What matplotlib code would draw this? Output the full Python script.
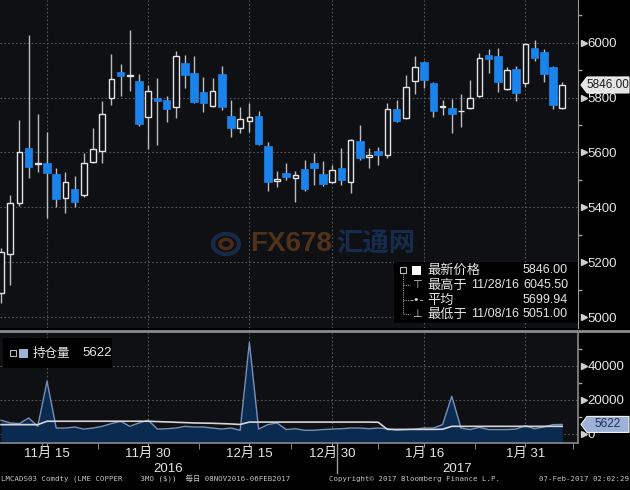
import matplotlib
matplotlib.use("Agg")
import matplotlib.pyplot as plt
import matplotlib.transforms as mtransforms
from matplotlib import font_manager
from matplotlib.font_manager import FontProperties
from matplotlib.patches import Rectangle, Polygon, Circle
from matplotlib.lines import Line2D
import numpy as np

# LMCADS03 (LME copper 3M), daily candles 08NOV2016 - 06FEB2017, trading days only
open_ = [5088, 5230, 5416, 5616, 5558, 5562, 5522, 5434, 5467, 5445,
         5565, 5605, 5799, 5893, 5880, 5860, 5729, 5799, 5791, 5766,
         5926, 5890, 5820, 5769, 5886, 5733, 5689, 5715, 5733, 5624,
         5497, 5525, 5507, 5540, 5562, 5522, 5493, 5544, 5493, 5642,
         5584, 5605, 5591, 5758, 5726, 5860, 5930, 5853, 5766, 5762,
         5750, 5762, 5806, 5955, 5952, 5831, 5904, 5853, 5981, 5966,
         5911, 5762]
high = [5252, 5445, 5718, 6028, 5739, 5675, 5544, 5529, 5514, 5598,
        5689, 5788, 5959, 5922, 6045.5, 5886, 5846, 5871, 5806, 5970,
        5955, 5952, 5875, 5871, 5915, 5791, 5766, 5780, 5751, 5638,
        5533, 5562, 5533, 5573, 5598, 5569, 5555, 5616, 5650, 5700,
        5616, 5620, 5780, 5791, 5882, 5952, 5933, 5857, 5791, 5795,
        5813, 5864, 5962, 5977, 5981, 5911, 5915, 5999, 6010, 5977,
        5915, 5857]
low = [5051, 5117, 5405, 5507, 5530, 5361, 5401, 5380, 5401, 5438,
       5560, 5562, 5773, 5806, 5825, 5697, 5613, 5627, 5711, 5726,
       5835, 5780, 5748, 5766, 5755, 5656, 5671, 5675, 5627, 5460,
       5474, 5500, 5420, 5460, 5482, 5478, 5489, 5482, 5453, 5573,
       5544, 5555, 5580, 5711, 5722, 5813, 5835, 5729, 5737, 5671,
       5693, 5758, 5802, 5890, 5820, 5828, 5788, 5839, 5933, 5857,
       5758, 5758]
close = [5238, 5416, 5602, 5547, 5560, 5525, 5431, 5493, 5420, 5562,
         5613, 5740, 5868, 5879, 5884, 5704, 5824, 5788, 5758, 5952,
         5882, 5784, 5780, 5824, 5766, 5689, 5722, 5729, 5631, 5493,
         5502, 5511, 5518, 5467, 5544, 5485, 5536, 5500, 5646, 5580,
         5591, 5591, 5758, 5715, 5839, 5911, 5864, 5751, 5769, 5740,
         5753, 5799, 5944, 5941, 5857, 5901, 5817, 5995, 5944, 5886,
         5773, 5846]

# 持仓量 (open interest) and its average line
open_interest = [8100, 6500, 6100, 9400, 4500, 31000, 3500, 3500, 4100, 2900,
                 3500, 4500, 6100, 7500, 4500, 6500, 8100, 2900, 3100, 3500,
                 4500, 4100, 4100, 3500, 2900, 3500, 2200, 53900, 2900, 5500,
                 6500, 2600, 3100, 2200, 2200, 2600, 2900, 3100, 3500, 3500,
                 3100, 3500, 3100, 2200, 2600, 2900, 3500, 3500, 5500, 22200,
                 3500, 2600, 3900, 2600, 2600, 2600, 2900, 4900, 3100, 4100,
                 5500, 5622]
oi_average = [5500, 5500, 5500, 5500, 5500, 7500, 7500, 7500, 7500, 7500,
              7500, 7500, 7500, 7500, 7500, 7500, 7500, 7300, 7100, 6900,
              6700, 6500, 6400, 6300, 6100, 5900, 5600, 7000, 7000, 7000,
              7000, 7000, 7000, 7000, 7000, 7000, 7000, 7000, 7000, 7000,
              7000, 6900, 2700, 2700, 2700, 2700, 2700, 2700, 2800, 4500,
              4500, 4500, 4500, 4500, 4500, 4500, 4500, 4500, 4500, 4500,
              4500, 4500]

tick_days = [5, 16, 27, 36, 46, 57]
tick_labels = ["11月 15", "11月 30", "12月 15", "12月 30", "1月 16", "1月 31"]
year_labels = ["2016", "2017"]
first_2017_day = 37

price_ticks = [5000, 5200, 5400, 5600, 5800, 6000]
oi_ticks = [0, 20000, 40000]

stat_names = ["最新价格", "最高于", "平均", "最低于"]
stat_dates = ["", "11/28/16", "", "11/08/16"]
stat_values = ["5846.00", "6045.50", "5699.94", "5051.00"]


def has_font(name):
    try:
        font_manager.findfont(FontProperties(family=name),
                              fallback_to_default=False)
        return True
    except ValueError:
        return False


# Bloomberg digits are tall and narrow: use Liberation Sans (Narrow if present)
if has_font("Liberation Sans Narrow"):
    NUM, NUM_SCALE = "Liberation Sans Narrow", 1.1
else:
    NUM, NUM_SCALE = "Liberation Sans", 1.0


def num_font(size):
    return FontProperties(family=NUM, size=size * NUM_SCALE)


CJK = "Noto Sans CJK SC"
plt.rcParams["font.family"] = ["Liberation Sans", CJK, "DejaVu Sans"]

W, H = 630, 490


def fx(px):
    return px / W


def fy(py):
    return 1 - py / H


BG = "#0f1014"
BLUE = "#1a84ec"
GRID = "#565656"
TXT = "#e6e6e6"

fig = plt.figure(figsize=(6.3, 4.9), dpi=100, facecolor="black")
ax = fig.add_axes([0, fy(328), fx(578), 328 / H], facecolor=BG)
ax2 = fig.add_axes([0, fy(443), fx(578), 110 / H], facecolor=BG)

x = np.arange(len(close))
o = np.array(open_, dtype=float)
c = np.array(close, dtype=float)
up = c >= o
body_lo = np.minimum(o, c)
body_h = np.maximum(np.abs(c - o), 3)

# ---- price panel
ax.vlines(x, low, high, color="#bdbdbd", lw=1, zorder=2)
ax.bar(x[up], body_h[up], bottom=body_lo[up], width=0.62,
       facecolor=BG, edgecolor="#e4e4e4", lw=1, zorder=3)
ax.bar(x[~up], body_h[~up], bottom=body_lo[~up], width=0.84,
       facecolor=BLUE, edgecolor=BLUE, lw=0.5, zorder=3)

x_lo, x_hi = -0.11, 62.72
ax.set_xlim(x_lo, x_hi)
ax.set_ylim(4960.6, 6155.6)
ax.set_xticks(tick_days)
ax.yaxis.tick_right()
ax.set_yticks(price_ticks, [str(v) for v in price_ticks],
              fontproperties=num_font(9.5))
ax.set_yticks(np.arange(5100, 6200, 200), minor=True)
ax.grid(True, which="major", ls=(0, (1.5, 2)), color=GRID, lw=0.8)
ax.set_axisbelow(True)
ax.tick_params(axis="x", length=0, labelbottom=False)
ax.tick_params(axis="y", which="major", length=0, pad=7, labelcolor=TXT)
ax.tick_params(axis="y", which="minor", length=3, width=1, color="#a0a0a0")
for s in ["top", "left", "bottom"]:
    ax.spines[s].set_visible(False)
ax.spines["right"].set_color("#9a9a9a")
ax.spines["right"].set_linewidth(0.8)
tri = mtransforms.blended_transform_factory(ax.transAxes, ax.transData)
ax.plot([1 + 6 / 578] * len(price_ticks), price_ticks, ls="none", marker=">",
        ms=4, color="#d0d0d0", transform=tri, clip_on=False)

# ---- open interest panel
oi_bottom = -5300
ax2.fill_between(x, open_interest, oi_bottom, color="#0b2a50", lw=0, zorder=2)
ax2.plot(x, open_interest, color="#7890b8", lw=1, zorder=3)
ax2.plot(x, oi_average, color="#d6d6d6", lw=1.2, zorder=4)
ax2.set_xlim(x_lo, x_hi)
ax2.set_ylim(oi_bottom, 59400)
ax2.yaxis.tick_right()
ax2.set_yticks(oi_ticks, [str(v) for v in oi_ticks],
               fontproperties=num_font(9.5))
ax2.set_yticks([10000, 30000, 50000], minor=True)
ax2.set_xticks(tick_days, tick_labels)
mids = [(a + b) / 2 for a, b in zip(tick_days[:-1], tick_days[1:])]
ax2.set_xticks([tick_days[0] / 2 + 2] + mids + [x_hi - 0.5], minor=True)
ax2.grid(True, which="major", ls=(0, (1.5, 2)), color=GRID, lw=0.8)
ax2.set_axisbelow(True)
ax2.tick_params(axis="y", which="major", length=0, pad=7, labelcolor=TXT)
ax2.tick_params(axis="y", which="minor", length=3, width=1, color="#a0a0a0")
ax2.tick_params(axis="x", which="major", length=3, color="#9a9a9a", pad=0.5,
                labelcolor=TXT, labelsize=9.5)
ax2.tick_params(axis="x", which="minor", length=4, color="#9a9a9a")
for s in ["top", "left"]:
    ax2.spines[s].set_visible(False)
for s in ["right", "bottom"]:
    ax2.spines[s].set_color("#8a8a8a")
    ax2.spines[s].set_linewidth(1.2)
tri2 = mtransforms.blended_transform_factory(ax2.transAxes, ax2.transData)
ax2.plot([1 + 6 / 578] * len(oi_ticks), oi_ticks, ls="none", marker=">",
         ms=4, color="#d0d0d0", transform=tri2, clip_on=False)

# year labels and year separator under the axis
xa = mtransforms.blended_transform_factory(ax2.transData, ax2.transAxes)
year_break = first_2017_day - 0.5
ax2.plot([year_break, year_break], [0, -0.27], color="#9a9a9a", lw=1,
         transform=xa, clip_on=False)
ax2.text((x_lo + year_break) / 2, -0.235, year_labels[0], transform=xa,
         ha="center", va="center", color=TXT, fontsize=9.5)
ax2.text((year_break + x_hi) / 2, -0.235, year_labels[1], transform=xa,
         ha="center", va="center", color=TXT, fontsize=9.5)

# separator between the panels
fig.add_artist(Line2D([0, 1], [fy(330.5), fy(330.5)], color="#8c8c8c", lw=2))


# ---- value tags on the right axis
def value_tag(axis, value, text, fc, tc):
    y = axis.transData.transform((0, value))[1]
    x0 = axis.transAxes.transform((1, 0))[0] + 3
    pts = [(x0, y), (x0 + 6, y + 8), (x0 + 48, y + 8), (x0 + 48, y - 8),
           (x0 + 6, y - 8)]
    pts = [(px / W, py / H) for px, py in pts]
    fig.add_artist(Polygon(pts, closed=True, fc=fc, ec="#f2f2f2", lw=0.8,
                           transform=fig.transFigure, zorder=5))
    fig.text((x0 + 27) / W, y / H, text, ha="center", va="center",
             color=tc, fontproperties=num_font(8.5), zorder=6)


value_tag(ax, close[-1], stat_values[0], "#e4e4e4", "#1c1c1c")
value_tag(ax2, open_interest[-1], str(open_interest[-1]), "#9db2d6", "#1b3058")

# ---- watermark
fig.add_artist(Circle((fx(226), fy(244)), 13 / W, fill=False, lw=3,
                      ec="#24457a", alpha=0.5, transform=fig.transFigure))
fig.add_artist(Circle((fx(226), fy(244)), 6 / W, fill=False, lw=2.5,
                      ec="#8a4420", alpha=0.5, transform=fig.transFigure))
fig.text(fx(250), fy(244), "FX678", ha="left", va="center", fontsize=20,
         fontweight="bold", color="#7a4a1e", alpha=0.6)
fig.text(fx(336), fy(244), "汇通网", ha="left", va="center", fontsize=19,
         fontweight="bold", color="#1a3560", alpha=0.75, family=[CJK])

# ---- price legend box
fig.add_artist(Rectangle((fx(394), fy(323)), fx(578) - fx(394), 61 / H,
                         fc="black", ec="none", transform=fig.transFigure,
                         zorder=4))
rows = [270, 285, 300, 314]
fig.add_artist(Line2D([fx(403), fx(403)], [fy(274), fy(314)], color="#9a9a9a",
                      lw=0.8, ls=(0, (1, 1)), zorder=5))
for r in rows[1:]:
    fig.add_artist(Line2D([fx(403), fx(410)], [fy(r), fy(r)], color="#9a9a9a",
                          lw=0.8, ls=(0, (1, 1)), zorder=5))
fig.add_artist(Rectangle((fx(400), fy(273)), 6 / W, 6 / H, fc="none",
                         ec="#bbbbbb", lw=0.8, transform=fig.transFigure,
                         zorder=5))
fig.add_artist(Rectangle((fx(412), fy(275)), 9 / W, 9 / H, fc="white",
                         ec="none", transform=fig.transFigure, zorder=5))
icons = ["", "⊤", "-•-", "⊥"]
for r, icon, name, d, v in zip(rows, icons, stat_names, stat_dates,
                               stat_values):
    if icon:
        fig.text(fx(417), fy(r), icon, ha="center", va="center", color="#d0d0d0",
                 fontsize=8, family="DejaVu Sans", zorder=6)
    fig.text(fx(427), fy(r), name, ha="left", va="center", color=TXT,
             fontsize=9.5, family=[CJK], zorder=6)
    if d:
        fig.text(fx(471), fy(r), d, ha="left", va="center", color=TXT,
                 fontproperties=num_font(9), zorder=6)
    fig.text(fx(568), fy(r), v, ha="right", va="center", color=TXT,
             fontproperties=num_font(9), zorder=6)

# ---- open interest legend box
fig.add_artist(Rectangle((fx(3), fy(368)), 109 / W, 30 / H, fc="black",
                         ec="none", transform=fig.transFigure, zorder=4))
fig.add_artist(Rectangle((fx(10), fy(356)), 6 / W, 6 / H, fc="none",
                         ec="#bbbbbb", lw=0.8, transform=fig.transFigure,
                         zorder=5))
fig.add_artist(Rectangle((fx(19), fy(358)), 9 / W, 9 / H, fc="#9db2d6",
                         ec="none", transform=fig.transFigure, zorder=5))
fig.text(fx(33), fy(353), "持仓量", ha="left", va="center", color=TXT,
         fontsize=9, family=[CJK], zorder=6)
fig.text(fx(82), fy(353), str(open_interest[-1]), ha="left", va="center",
         color=TXT, fontproperties=num_font(9.5), zorder=6)

# ---- footer
MONO = ["DejaVu Sans Mono", CJK]
fig.text(fx(1), fy(479), "LMCADS03 Comdty (LME COPPER    3MO ($))  每日 08NOV2016-06FEB2017",
         ha="left", va="center", color="#c4c4c4", fontsize=5.3, family=MONO)
fig.text(fx(329), fy(479), "Copyright© 2017 Bloomberg Finance L.P.",
         ha="left", va="center", color="#c4c4c4", fontsize=5.3, family=MONO)
fig.text(fx(629), fy(479), "07-Feb-2017 02:02:29", ha="right", va="center",
         color="#c4c4c4", fontsize=5.3, family=MONO)

fig.savefig("out.png", dpi=100, facecolor="black")
